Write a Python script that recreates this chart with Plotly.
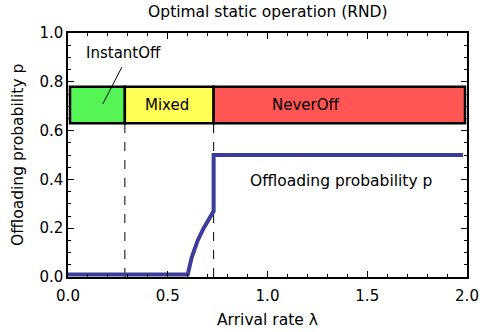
import plotly.graph_objects as go

# Data
lam = [0.0, 0.6, 0.62, 0.65, 0.68, 0.71, 0.73, 0.73, 1.98]
p = [0.01, 0.01, 0.08, 0.15, 0.20, 0.245, 0.27, 0.50, 0.50]

region_names = ["", "Mixed", "NeverOff"]
region_start = [0.01, 0.285, 0.73]
region_end = [0.285, 0.73, 1.99]
region_label_x = [None, 0.495, 1.195]
region_colors = ["#55f555", "#ffff55", "#ff5555"]
band_low, band_high = 0.63, 0.78
boundaries = [0.285, 0.73]

x_ticks = [0, 0.5, 1.0, 1.5, 2.0]
x_ticktext = ["0.0", "0.5", "1.0", "1.5", "2.0"]
y_ticks = [0, 0.2, 0.4, 0.6, 0.8, 1.0]
y_ticktext = ["0.0", "0.2", "0.4", "0.6", "0.8", "1.0"]

FONT = "DejaVu Sans, Arial, sans-serif"

fig = go.Figure()
fig.add_trace(go.Scatter(x=lam, y=p, mode="lines",
                         line=dict(color="#3d3d99", width=4),
                         showlegend=False, hoverinfo="skip"))

shapes = []
for b in boundaries:
    shapes.append(dict(type="line", xref="x", yref="y", x0=b, x1=b, y0=0, y1=band_low,
                       line=dict(color="black", width=1, dash="dash"), layer="below"))
for s, e, c in zip(region_start, region_end, region_colors):
    shapes.append(dict(type="rect", xref="x", yref="y", x0=s, x1=e, y0=band_low, y1=band_high,
                       fillcolor=c, line=dict(color="black", width=2.5), layer="above"))
shapes.append(dict(type="line", xref="x", yref="y", x0=0.27, y0=0.86, x1=0.175, y1=0.71,
                   line=dict(color="black", width=1)))

annotations = []
for lx, n in zip(region_label_x, region_names):
    if n:
        annotations.append(dict(x=lx, y=0.705, text=n, showarrow=False, xref="x", yref="y",
                                font=dict(size=15, color="black", family=FONT)))
annotations.append(dict(x=0.28, y=0.92, text="InstantOff", showarrow=False,
                        xref="x", yref="y", font=dict(size=15, color="black", family=FONT)))
annotations.append(dict(x=1.37, y=0.395, text="Offloading probability p", showarrow=False,
                        xref="x", yref="y", font=dict(size=15.5, color="black", family=FONT)))
# axis titles
annotations.append(dict(x=0.5, y=0, xref="paper", yref="paper", yshift=-43,
                        text="Arrival rate λ", showarrow=False, yanchor="middle",
                        font=dict(size=15.5, color="black", family=FONT)))
annotations.append(dict(x=0, y=0.5, xref="paper", yref="paper", xshift=-50,
                        text="Offloading probability p", showarrow=False, textangle=-90,
                        xanchor="center", font=dict(size=15.5, color="black", family=FONT)))

fig.update_layout(
    width=480, height=332,
    margin=dict(l=68, r=13, t=33, b=55),
    paper_bgcolor="white", plot_bgcolor="white",
    title=dict(text="Optimal static operation (RND)", x=0.558, xanchor="center",
               y=0.966, yanchor="middle", font=dict(size=15.5, color="black", family=FONT)),
    shapes=shapes, annotations=annotations,
    font=dict(family=FONT, color="black"),
)
common = dict(ticks="inside", ticklen=6, tickcolor="black", tickwidth=1,
              showgrid=False, zeroline=False, showline=True, linecolor="black",
              linewidth=1.5, mirror="allticks", automargin=False,
              tickfont=dict(size=15, family=FONT, color="black"))
fig.update_xaxes(range=[0, 2], tickvals=x_ticks, ticktext=x_ticktext, ticklabelstandoff=4,
                 minor=dict(dtick=0.1, ticks="inside", ticklen=3, tickcolor="black"),
                 **common)
fig.update_yaxes(range=[0, 1], tickvals=y_ticks, ticktext=y_ticktext,
                 minor=dict(dtick=0.05, ticks="inside", ticklen=3, tickcolor="black"),
                 **common)

fig.write_html("out.html", config={"displayModeBar": False},
               post_script="document.body.style.margin='0';document.body.style.overflow='hidden';")
